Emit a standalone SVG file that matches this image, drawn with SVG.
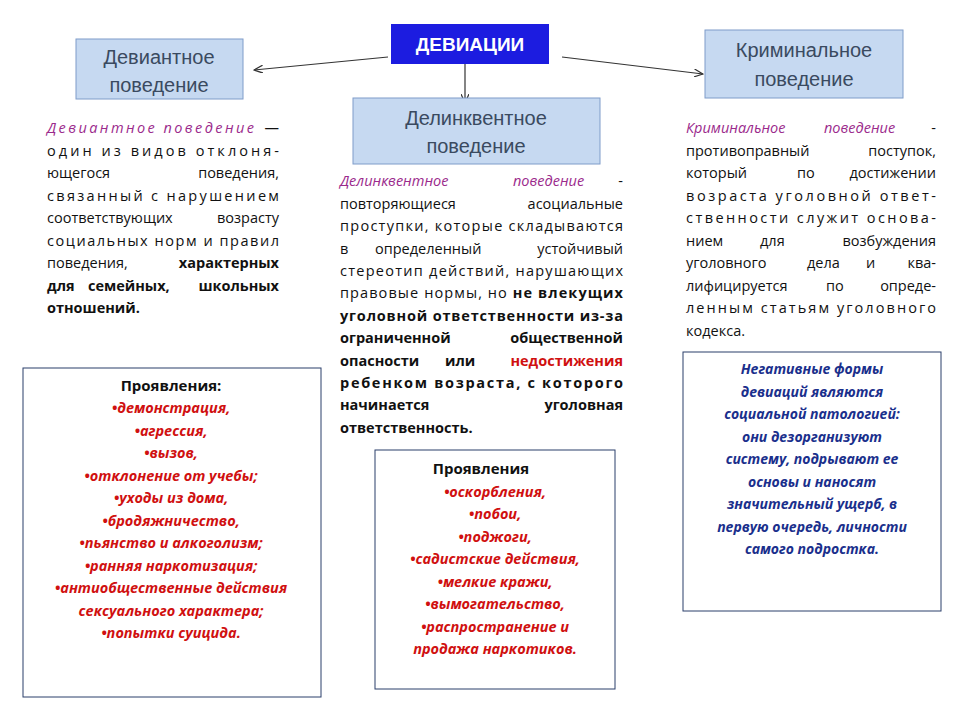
<svg xmlns="http://www.w3.org/2000/svg" width="960" height="720" viewBox="0 0 960 720">
<style>
.hdr{fill:#c6d9f1;stroke:#7f9cc9;stroke-width:1}
.ht{font-family:"Liberation Sans",sans-serif;font-size:20px;fill:#3a4a60;text-anchor:middle}
.b{font-family:"Open Sans","Liberation Sans",sans-serif;font-size:14.5px;fill:#111}
.bb{font-weight:bold}
.e{text-anchor:end}
.term{font-style:italic;fill:#9b2a8c}
.box{fill:#fff;stroke:#2b3f6b;stroke-width:1}
.lt{font-family:"Open Sans","Liberation Sans",sans-serif;font-size:14.5px;font-style:italic;font-weight:bold;fill:#d01010;text-anchor:middle}
.lh{font-family:"Open Sans","Liberation Sans",sans-serif;font-size:15px;font-weight:bold;fill:#111;text-anchor:middle}
.nt{font-family:"Open Sans","Liberation Sans",sans-serif;font-size:14px;font-style:italic;font-weight:bold;fill:#1a2f8c;text-anchor:middle}
.c{stroke:#333;stroke-width:1.2;fill:none;marker-end:url(#a)}
</style>
<defs><marker id="a" markerWidth="10" markerHeight="8" refX="9" refY="4" orient="auto" markerUnits="userSpaceOnUse"><path d="M0,0 L9,4 L0,8" fill="none" stroke="#333" stroke-width="1.2"/></marker></defs>
<g id="connectors">
<line class="c" x1="388" y1="57" x2="254" y2="70"/>
<line class="c" x1="562" y1="57" x2="703" y2="74"/>
<line class="c" x1="465" y1="64" x2="465" y2="103"/>
</g>
<g id="title"><rect x="391" y="24" width="158" height="40" fill="#1c1ce0"/><text x="470" y="51" font-family="Liberation Sans,sans-serif" font-size="19" font-weight="bold" fill="#fff" text-anchor="middle">ДЕВИАЦИИ</text></g>
<g id="dev-header"><rect class="hdr" x="76" y="39" width="167" height="60"/><text class="ht" x="159" y="64">Девиантное</text><text class="ht" x="159" y="92">поведение</text></g>
<g id="del-header"><rect class="hdr" x="353" y="98" width="247" height="66"/><text class="ht" x="476" y="125">Делинквентное</text><text class="ht" x="476" y="153">поведение</text></g>
<g id="crim-header"><rect class="hdr" x="705" y="30" width="198" height="68"/><text class="ht" x="804" y="57">Криминальное</text><text class="ht" x="804" y="86">поведение</text></g>
<g id="dev-text" class="b">
<text x="47" y="133" class="term" textLength="207" lengthAdjust="spacing">Девиантное поведение</text><text x="279" y="133" class="e">—</text>
<text x="47" y="156" textLength="232" lengthAdjust="spacing">один из видов отклоня-</text>
<text x="47" y="178">ющегося</text><text x="279" y="178" class="e">поведения,</text>
<text x="47" y="201" textLength="232" lengthAdjust="spacing">связанный с нарушением</text>
<text x="47" y="223">соответствующих</text><text x="279" y="223" class="e">возрасту</text>
<text x="47" y="246" textLength="232" lengthAdjust="spacing">социальных норм и правил</text>
<text x="47" y="268">поведения,</text><text x="279" y="268" class="e bb">характерных</text>
<text x="47" y="291" class="bb">для</text><text x="88" y="291" class="bb">семейных,</text><text x="279" y="291" class="e bb">школьных</text>
<text x="47" y="313" class="bb">отношений.</text>
</g>
<g id="del-text" class="b">
<text x="340" y="186" class="term">Делинквентное</text><text x="513" y="186" class="term">поведение</text><text x="623" y="186" class="e">-</text>
<text x="340" y="209">повторяющиеся</text><text x="623" y="209" class="e">асоциальные</text>
<text x="340" y="231" textLength="283" lengthAdjust="spacing">проступки, которые складываются</text>
<text x="340" y="254">в</text><text x="375" y="254">определенный</text><text x="623" y="254" class="e">устойчивый</text>
<text x="340" y="276" textLength="283" lengthAdjust="spacing">стереотип действий, нарушающих</text>
<text x="340" y="298" textLength="283" lengthAdjust="spacing">правовые нормы, но <tspan class="bb">не влекущих</tspan></text>
<text x="340" y="321" textLength="283" lengthAdjust="spacing" class="bb">уголовной ответственности из-за</text>
<text x="340" y="343" class="bb">ограниченной</text><text x="623" y="343" class="e bb">общественной</text>
<text x="340" y="366" class="bb">опасности</text><text x="445" y="366" class="bb">или</text><text x="623" y="366" class="e bb" fill="#d01010">недостижения</text>
<text x="340" y="388" textLength="283" lengthAdjust="spacing" class="bb">ребенком возраста, с которого</text>
<text x="340" y="410" class="bb">начинается</text><text x="623" y="410" class="e bb">уголовная</text>
<text x="340" y="433" class="bb">ответственность.</text>
</g>
<g id="crim-text" class="b">
<text x="686" y="133" class="term">Криминальное</text><text x="824" y="133" class="term">поведение</text><text x="936" y="133" class="e">-</text>
<text x="686" y="156">противоправный</text><text x="936" y="156" class="e">поступок,</text>
<text x="686" y="178">который</text><text x="797" y="178">по</text><text x="936" y="178" class="e">достижении</text>
<text x="686" y="201" textLength="250" lengthAdjust="spacing">возраста  уголовной  ответ-</text>
<text x="686" y="223" textLength="250" lengthAdjust="spacing">ственности служит основа-</text>
<text x="686" y="246">нием</text><text x="760" y="246">для</text><text x="936" y="246" class="e">возбуждения</text>
<text x="686" y="268">уголовного</text><text x="807" y="268">дела</text><text x="866" y="268">и</text><text x="936" y="268" class="e">ква-</text>
<text x="686" y="291">лифицируется</text><text x="826" y="291">по</text><text x="936" y="291" class="e">опреде-</text>
<text x="686" y="313" textLength="250" lengthAdjust="spacing">ленным статьям уголовного</text>
<text x="686" y="336">кодекса.</text>
</g>
<g id="dev-list"><rect class="box" x="23" y="368" width="298" height="329"/>
<text class="lh" x="171" y="391">Проявления:</text>
<text class="lt" x="171" y="413">•демонстрация,</text>
<text class="lt" x="171" y="436">•агрессия,</text>
<text class="lt" x="171" y="458">•вызов,</text>
<text class="lt" x="171" y="481">•отклонение от учебы;</text>
<text class="lt" x="171" y="503">•уходы из дома,</text>
<text class="lt" x="171" y="526">•бродяжничество,</text>
<text class="lt" x="171" y="548">•пьянство и алкоголизм;</text>
<text class="lt" x="171" y="571">•ранняя наркотизация;</text>
<text class="lt" x="171" y="593">•антиобщественные действия</text>
<text class="lt" x="171" y="616">сексуального характера;</text>
<text class="lt" x="171" y="638">•попытки суицида.</text>
</g>
<g id="del-list"><rect class="box" x="375" y="450" width="240" height="239"/>
<text class="lh" x="481" y="474">Проявления</text>
<text class="lt" x="495" y="497">•оскорбления,</text>
<text class="lt" x="495" y="519">•побои,</text>
<text class="lt" x="495" y="542">•поджоги,</text>
<text class="lt" x="495" y="564">•садистские действия,</text>
<text class="lt" x="495" y="587">•мелкие кражи,</text>
<text class="lt" x="495" y="609">•вымогательство,</text>
<text class="lt" x="495" y="632">•распространение и</text>
<text class="lt" x="495" y="654">продажа наркотиков.</text>
</g>
<g id="note"><rect class="box" x="683" y="352" width="258" height="259"/>
<text class="nt" x="812" y="374">Негативные формы</text>
<text class="nt" x="812" y="397">девиаций являются</text>
<text class="nt" x="812" y="419">социальной патологией:</text>
<text class="nt" x="812" y="442">они дезорганизуют</text>
<text class="nt" x="812" y="464">систему, подрывают ее</text>
<text class="nt" x="812" y="487">основы и наносят</text>
<text class="nt" x="812" y="509">значительный ущерб, в</text>
<text class="nt" x="812" y="532">первую очередь, личности</text>
<text class="nt" x="812" y="554">самого подростка.</text>
</g>
</svg>
